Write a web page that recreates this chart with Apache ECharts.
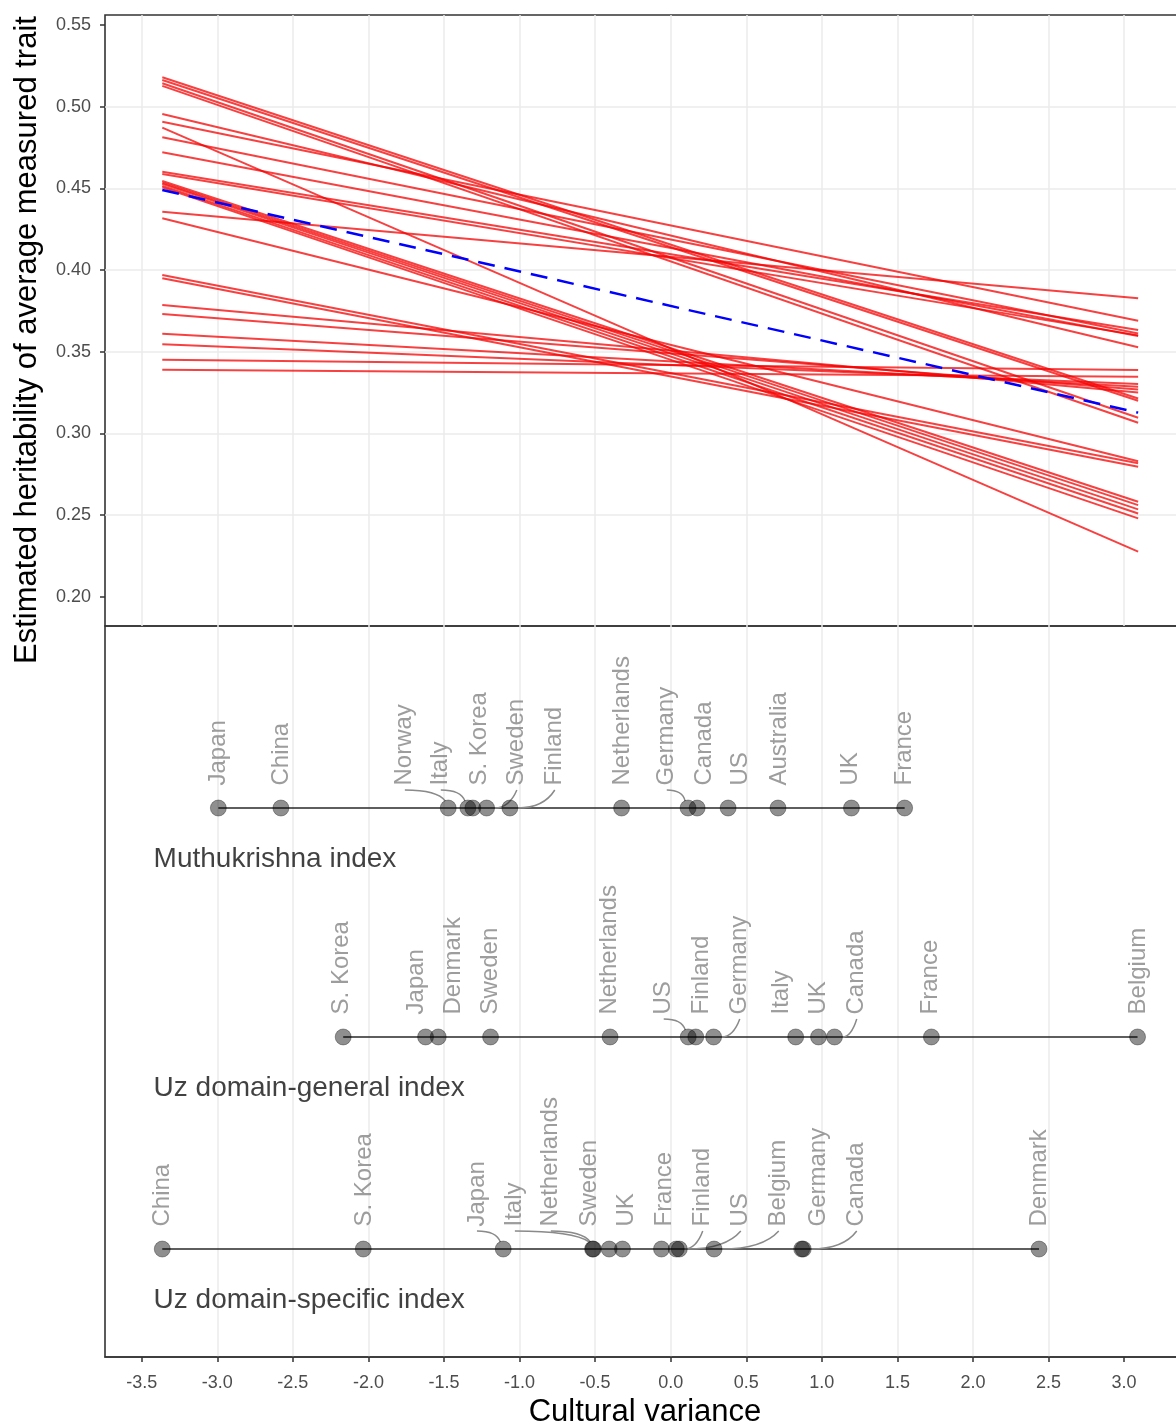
<!DOCTYPE html>
<html>
<head>
<meta charset="utf-8">
<script src="https://cdn.jsdelivr.net/npm/echarts@6.0.0/dist/echarts.min.js"></script>
<style>
  html, body { margin: 0; padding: 0; background: #fff; }
  #chart { width: 1176px; height: 1425px; }
</style>
</head>
<body>
<div id="chart"></div>
<script>
// tick labels
const xTicks = [-3.5, -3.0, -2.5, -2.0, -1.5, -1.0, -0.5, 0.0, 0.5, 1.0, 1.5, 2.0, 2.5, 3.0];
const yTicks = [0.20, 0.25, 0.30, 0.35, 0.40, 0.45, 0.50, 0.55];

// x range of the fitted lines (min / max over all indices)
const fitRange = [-3.364, 3.093];

// red lines: fitted value at the left and at the right end
const redStart = [0.5180, 0.5163, 0.5143, 0.5127, 0.4955, 0.4908, 0.4872, 0.4813, 0.4721,
                  0.4602, 0.4588, 0.4545, 0.4535, 0.4527, 0.4515, 0.4506, 0.4357, 0.4317,
                  0.3970, 0.3949, 0.3786, 0.3731, 0.3610, 0.3545, 0.3451, 0.3390];
const redEnd   = [0.3214, 0.3200, 0.3096, 0.3065, 0.3527, 0.3690, 0.2276, 0.3612, 0.3596,
                  0.3633, 0.3600, 0.2582, 0.2561, 0.2535, 0.2510, 0.2480, 0.3827, 0.2830,
                  0.2817, 0.2796, 0.3250, 0.3269, 0.3286, 0.3302, 0.3388, 0.3347];
// blue dashed average line
const meanFit = [0.449, 0.3127];

// Muthukrishna index
const muthNames  = ['Japan', 'China', 'Norway', 'Italy', 'S. Korea', 'Sweden', 'Finland', 'Netherlands',
                    'Germany', 'Canada', 'US', 'Australia', 'UK', 'France'];
const muthValues = [-2.993, -2.579, -1.472, -1.342, -1.309, -1.218, -1.064, -0.325,
                    0.115, 0.175, 0.380, 0.710, 1.196, 1.548];
const muthLabelX = [-2.995, -2.579, -1.759, -1.521, -1.263, -1.018, -0.767, -0.323,
                    -0.026, 0.226, 0.464, 0.722, 1.191, 1.548];

// Uz domain-general index
const genNames  = ['S. Korea', 'Japan', 'Denmark', 'Sweden', 'Netherlands', 'US', 'Finland',
                   'Germany', 'Italy', 'UK', 'Canada', 'France', 'Belgium'];
const genValues = [-2.167, -1.622, -1.538, -1.192, -0.401, 0.116, 0.166, 0.284, 0.827, 0.978, 1.084, 1.725, 3.089];
const genLabelX = [-2.182, -1.686, -1.435, -1.190, -0.409, -0.046, 0.206, 0.457, 0.735, 0.979, 1.231, 1.720, 3.096];

// Uz domain-specific index
const specNames  = ['China', 'S. Korea', 'Japan', 'Italy', 'Netherlands', 'Sweden', 'UK', 'France',
                    'Finland', 'US', 'Belgium', 'Germany', 'Canada', 'Denmark'];
const specValues = [-3.364, -2.034, -1.108, -0.517, -0.512, -0.407, -0.319, -0.061,
                    0.037, 0.057, 0.287, 0.867, 0.877, 2.437];
const specLabelX = [-3.366, -2.030, -1.282, -1.031, -0.793, -0.535, -0.290, -0.039,
                    0.212, 0.464, 0.715, 0.979, 1.231, 2.441];

const rowTitles = ['Muthukrishna index', 'Uz domain-general index', 'Uz domain-specific index'];

const FONT = 'Liberation Sans';
const chart = echarts.init(document.getElementById('chart'));

const series = [];

// top panel
redStart.forEach(function (s, i) {
    series.push({
        type: 'line', xAxisIndex: 0, yAxisIndex: 0,
        data: [[fitRange[0], s], [fitRange[1], redEnd[i]]],
        symbol: 'none', silent: true, z: 2,
        lineStyle: {color: 'rgba(245,0,0,0.75)', width: 2}
    });
});
series.push({
    type: 'line', xAxisIndex: 0, yAxisIndex: 0,
    data: [[fitRange[0], meanFit[0]], [fitRange[1], meanFit[1]]],
    symbol: 'none', silent: true, z: 3,
    lineStyle: {color: '#0000ff', width: 2.5, type: [17, 10]}
});

// bottom panel, one row per index
const rows = [
    {names: muthNames, values: muthValues, labelX: muthLabelX, level: 7.51},
    {names: genNames, values: genValues, labelX: genLabelX, level: 4.378},
    {names: specNames, values: specValues, labelX: specLabelX, level: 1.477}
];

rows.forEach(function (row, r) {
    const sorted = row.values.slice().sort(function (a, b) { return a - b; });
    series.push({
        type: 'line', xAxisIndex: 1, yAxisIndex: 1,
        data: sorted.map(function (v) { return [v, row.level]; }),
        symbol: 'none', silent: true, z: 2,
        lineStyle: {color: 'rgba(40,40,40,0.75)', width: 2}
    });

    // repel connectors (only where the label moved away from its point)
    const links = [];
    row.values.forEach(function (v, i) {
        if (Math.abs(row.labelX[i] - v) > 0.13) links.push([v, row.level, row.labelX[i]]);
    });
    series.push({
        type: 'custom', xAxisIndex: 1, yAxisIndex: 1, silent: true, z: 3,
        encode: {x: [0, 2], y: 1},
        data: links,
        renderItem: function (params, api) {
            const dot = api.coord([api.value(0), api.value(1)]);
            const lx = api.coord([api.value(2), api.value(1)])[0];
            const y0 = dot[1] - 18;
            const dx = dot[0] - lx;
            let cp, end;
            if (dx > 0) {
                cp = [lx + dx * 0.75, y0];
                end = [dot[0] - 3, dot[1] - 7];
            } else {
                cp = [lx + dx * 0.25, dot[1]];
                end = [dot[0] + 8, dot[1]];
            }
            return {
                type: 'bezierCurve',
                shape: {x1: lx, y1: y0, x2: end[0], y2: end[1], cpx1: cp[0], cpy1: cp[1]},
                style: {stroke: '#8a8a8a', lineWidth: 1.5, fill: null}
            };
        }
    });

    series.push({
        type: 'scatter', xAxisIndex: 1, yAxisIndex: 1, z: 4, silent: true,
        symbolSize: 16,
        data: row.values.map(function (v) { return [v, row.level]; }),
        itemStyle: {color: 'rgba(0,0,0,0.55)', borderColor: 'rgba(0,0,0,0.4)', borderWidth: 1}
    });

    series.push({
        type: 'scatter', xAxisIndex: 1, yAxisIndex: 1, z: 5, silent: true,
        symbolSize: 1,
        itemStyle: {color: 'rgba(0,0,0,0)'},
        data: row.labelX.map(function (lx, i) { return {name: row.names[i], value: [lx, row.level]}; }),
        label: {
            show: true, formatter: '{b}', position: 'top', distance: 22, rotate: 90,
            align: 'left', verticalAlign: 'middle',
            fontFamily: FONT, fontSize: 24, color: '#858585'
        }
    });

    series.push({
        type: 'scatter', xAxisIndex: 1, yAxisIndex: 1, z: 5, silent: true,
        symbolSize: 1,
        itemStyle: {color: 'rgba(0,0,0,0)'},
        data: [{name: rowTitles[r], value: [-3.425, row.level - 0.70]}],
        label: {
            show: true, formatter: '{b}', position: 'right', distance: 0,
            fontFamily: FONT, fontSize: 28, color: '#111'
        }
    });
});

const gridLine = {show: true, showMinLine: false, showMaxLine: false, lineStyle: {color: '#ebebeb', width: 1.5}};
const tickStyle = {show: true, length: 5, lineStyle: {color: '#333', width: 1.5}};

const option = {
    animation: false,
    backgroundColor: '#ffffff',
    textStyle: {fontFamily: FONT},
    grid: [
        {left: 105, right: -9, top: 15, height: 611, show: true, borderColor: '#333', borderWidth: 1.6,
         outerBoundsMode: 'none', containLabel: false},
        {left: 105, right: -9, top: 626, height: 731, show: true, borderColor: '#333', borderWidth: 1.6,
         outerBoundsMode: 'none', containLabel: false}
    ],
    xAxis: [
        {
            gridIndex: 0, type: 'value', min: -3.743, max: 3.403, splitNumber: 14,
            axisLine: {show: false, onZero: false}, axisTick: {show: false}, axisLabel: {show: false},
            splitLine: gridLine
        },
        {
            gridIndex: 1, type: 'value', min: -3.743, max: 3.403, splitNumber: 14,
            axisLine: {show: true, onZero: false, lineStyle: {color: '#333', width: 1.6}},
            axisTick: Object.assign({customValues: xTicks}, tickStyle),
            axisLabel: {
                customValues: xTicks, margin: 17,
                fontSize: 18, color: '#4d4d4d', fontFamily: FONT,
                formatter: function (v) { return v.toFixed(1); }
            },
            splitLine: gridLine,
            name: 'Cultural variance', nameLocation: 'middle', nameGap: 40,
            nameTextStyle: {fontSize: 31, color: '#000', fontFamily: FONT}
        }
    ],
    yAxis: [
        {
            gridIndex: 0, type: 'value', min: 0.1821, max: 0.5561, splitNumber: 7,
            axisLine: {show: false, onZero: false},
            axisTick: Object.assign({customValues: yTicks}, tickStyle),
            axisLabel: {
                customValues: yTicks, margin: 14,
                fontSize: 18, color: '#4d4d4d', fontFamily: FONT,
                formatter: function (v) { return v.toFixed(2); }
            },
            splitLine: gridLine
        },
        {
            gridIndex: 1, type: 'value', min: 0, max: 10, show: false,
            axisLine: {onZero: false},
            splitLine: {show: false}
        }
    ],
    graphic: [{
        type: 'text', x: 27, y: 340, rotation: Math.PI / 2,
        style: {
            text: 'Estimated heritability of average measured trait',
            fontFamily: FONT, fontSize: 31, fill: '#000',
            align: 'center', verticalAlign: 'middle'
        }
    }],
    series: series
};

chart.setOption(option);
</script>
</body>
</html>
